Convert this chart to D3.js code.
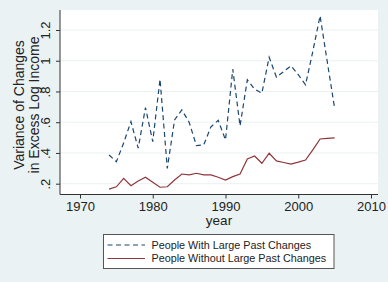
<!DOCTYPE html>
<html>
<head>
<meta charset="utf-8">
<script src="https://cdn.jsdelivr.net/npm/d3@7"></script>
<style>
  html, body { margin: 0; padding: 0; background: #eaf2f3; }
  svg { display: block; font-family: "Liberation Sans", Arial, sans-serif; }
</style>
</head>
<body>
<div id="chart"></div>
<script>
// values
const years = d3.range(1974, 2006);
const withLarge = [0.387, 0.343, 0.465, 0.604, 0.431, 0.695, 0.474, 0.880, 0.300, 0.615,
  0.680, 0.600, 0.448, 0.452, 0.570, 0.612, 0.485, 0.945, 0.576, 0.876,
  0.815, 0.789, 1.023, 0.893, 0.930, 0.967, 0.910, 0.843, 1.060, 1.292,
  0.990, 0.691];
const withoutLarge = [0.165, 0.180, 0.235, 0.187, 0.218, 0.242, 0.209, 0.177, 0.180, 0.224,
  0.263, 0.258, 0.268, 0.257, 0.257, 0.242, 0.224, 0.246, 0.263, 0.361,
  0.380, 0.333, 0.398, 0.348, 0.338, 0.328, 0.340, 0.354, 0.420, 0.491,
  0.495, 0.498];
const xTicks = [1970, 1980, 1990, 2000, 2010];
const yTicks = [0.2, 0.4, 0.6, 0.8, 1.0, 1.2];
const yTickLabels = [".2", ".4", ".6", ".8", "1", "1.2"];
const seriesNames = ["People With Large Past Changes", "People Without Large Past Changes"];

const width = 388, height = 282;
const plot = { left: 60, right: 378, top: 10, bottom: 194.5 };

const svg = d3.select("#chart").append("svg")
  .attr("width", width)
  .attr("height", height);

svg.append("rect")
  .attr("width", width).attr("height", height)
  .attr("fill", "#eaf2f3");

// plot region
svg.append("rect")
  .attr("x", plot.left).attr("y", plot.top)
  .attr("width", plot.right - plot.left)
  .attr("height", plot.bottom - plot.top)
  .attr("fill", "#fff");

// Scales
const x = d3.scaleLinear().domain([1970, 2010]).range([80, 371]);
const y = d3.scaleLinear().domain([0.2, 1.2]).range([183.7, 30]);

// gridlines
svg.append("g")
  .selectAll("line")
  .data(yTicks)
  .enter()
  .append("line")
  .attr("x1", plot.left).attr("x2", plot.right)
  .attr("y1", d => y(d)).attr("y2", d => y(d))
  .attr("stroke", "#eaf2f3")
  .attr("stroke-width", 1);

// Axes
const yAxis = svg.append("g")
  .attr("transform", `translate(${plot.left},0)`)
  .call(d3.axisLeft(y).tickValues(yTicks).tickSize(4).tickPadding(6)
    .tickFormat((d, i) => yTickLabels[i]));
yAxis.select(".domain").attr("d", `M0,${plot.top}V${plot.bottom}`);

yAxis.selectAll(".tick text")
  .attr("transform", "rotate(-90)")
  .attr("x", 0)
  .attr("y", -10)
  .attr("dy", 0)
  .attr("text-anchor", "middle")
  .style("font-size", "13px");

const xAxis = svg.append("g")
  .attr("transform", `translate(0,${plot.bottom})`)
  .call(d3.axisBottom(x).tickValues(xTicks).tickSize(4).tickPadding(3).tickFormat(d3.format("d")));
xAxis.select(".domain").attr("d", `M${plot.left},0H${plot.right}`);
xAxis.selectAll(".tick text").style("font-size", "13px");

svg.selectAll(".domain, .tick line").attr("stroke", "#333");
svg.selectAll(".tick text").attr("fill", "#222");

// axis titles
svg.append("text")
  .attr("transform", "translate(24,105) rotate(-90)")
  .attr("text-anchor", "middle")
  .style("font-size", "14px")
  .attr("fill", "#222")
  .text("Variance of Changes");
svg.append("text")
  .attr("transform", "translate(38.5,105) rotate(-90)")
  .attr("text-anchor", "middle")
  .style("font-size", "14px")
  .attr("fill", "#222")
  .text("in Excess Log Income");

svg.append("text")
  .attr("x", (plot.left + plot.right) / 2)
  .attr("y", 225)
  .attr("text-anchor", "middle")
  .style("font-size", "13.5px")
  .attr("fill", "#222")
  .text("year");

// Lines
const line = vals => d3.line()
  .x((d, i) => x(years[i]))
  .y(d => y(d))(vals);

svg.append("path")
  .attr("d", line(withLarge))
  .attr("fill", "none")
  .attr("stroke", "#1a476f")
  .attr("stroke-width", 1.2)
  .attr("stroke-dasharray", "5,3.5");

svg.append("path")
  .attr("d", line(withoutLarge))
  .attr("fill", "none")
  .attr("stroke", "#90353b")
  .attr("stroke-width", 1.2);

// ----- Legend -----
const legend = svg.append("g");
legend.append("rect")
  .attr("x", 103.5).attr("y", 234.5)
  .attr("width", 230.5).attr("height", 34)
  .attr("fill", "#fff")
  .attr("stroke", "#555");

const styles = [
  { color: "#1a476f", dash: "5,3.5" },
  { color: "#90353b", dash: null }
];

const items = legend.selectAll(".legend-item")
  .data(seriesNames)
  .enter()
  .append("g")
  .attr("class", "legend-item")
  .attr("transform", (d, i) => `translate(0, ${245 + i * 13.5})`);

items.append("line")
  .attr("x1", 107.5).attr("x2", 145)
  .attr("stroke", (d, i) => styles[i].color)
  .attr("stroke-width", 1.2)
  .attr("stroke-dasharray", (d, i) => styles[i].dash);

items.append("text")
  .attr("x", 151.5)
  .attr("y", 3.8)
  .style("font-size", "10.8px")
  .attr("fill", "#222")
  .text(d => d);
</script>
</body>
</html>
